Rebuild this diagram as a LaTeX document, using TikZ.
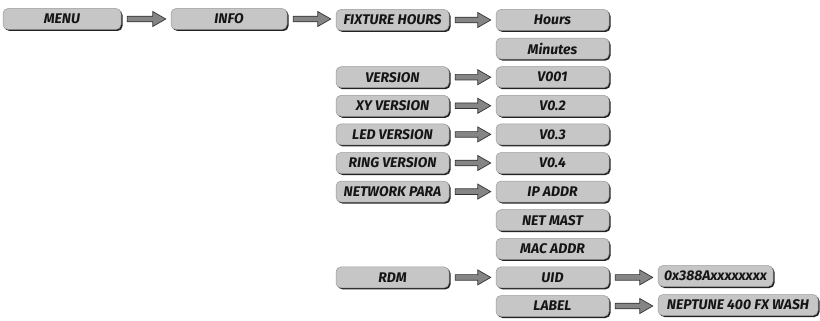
\documentclass[tikz,border=0pt]{standalone}
\usepackage{fontspec}
\setmainfont{Fira Sans}
\usetikzlibrary{calc,shadows}
\definecolor{boxfill}{HTML}{C6C6C6}
\definecolor{boxedge}{HTML}{9A9A9A}
\definecolor{shadowc}{HTML}{222222}
\definecolor{arrfill}{HTML}{858585}
\definecolor{arredge}{HTML}{333333}
\definecolor{textc}{HTML}{151515}
\tikzset{
  mbox/.style={draw=boxedge, line width=0.5pt, fill=boxfill, rounded corners=5pt,
    minimum height=21pt, inner sep=0pt, text=textc,
    font=\fontsize{14}{14}\selectfont\bfseries\itshape,
    drop shadow={shadow xshift=1.5pt, shadow yshift=-1.5pt, fill=shadowc, opacity=1}},
  wA/.style={minimum width=118pt},
  wB/.style={minimum width=116pt},
  wC/.style={minimum width=113pt},
  wD/.style={minimum width=115pt},
  wE/.style={minimum width=160pt},
  flowarr/.style={draw=arredge, line width=0.7pt, fill=arrfill, line join=miter},
}
\newcommand\flowarrow[2]{%
  \draw[flowarr] let \p1=(#1.east), \p2=(#2.west) in
    (\x1+6pt,\y1+2.8pt) -- (\x2-18pt,\y1+2.8pt) -- (\x2-18pt,\y1+7.5pt) --
    (\x2-5pt,\y1) -- (\x2-18pt,\y1-7.5pt) -- (\x2-18pt,\y1-2.8pt) --
    (\x1+6pt,\y1-2.8pt) -- cycle;}
\begin{document}
\begin{tikzpicture}[x=1pt,y=-1pt]
\useasboundingbox (0,0) rectangle (820,321);
\def\cA{62}\def\cB{229}\def\cC{392.5}\def\cD{552.5}
\node[mbox,wA] (menu) at (\cA,19) {MENU};
\node[mbox,wB] (info) at (\cB,19) {INFO};
\node[mbox,wC] (fix) at (\cC,20) {FIXTURE HOURS};
\node[mbox,wC] (hours) at (\cD,20) {Hours};
\node[mbox,wC] (minutes) at (\cD,48.6) {Minutes};
\node[mbox,wC] (ver) at (\cC,77.2) {VERSION};
\node[mbox,wC] (v001) at (\cD,77.2) {V001};
\node[mbox,wC] (xyver) at (\cC,105.8) {XY VERSION};
\node[mbox,wC] (v02) at (\cD,105.8) {V0.2};
\node[mbox,wC] (ledver) at (\cC,134.4) {LED VERSION};
\node[mbox,wC] (v03) at (\cD,134.4) {V0.3};
\node[mbox,wC] (ringver) at (\cC,163) {RING VERSION};
\node[mbox,wC] (v04) at (\cD,163) {V0.4};
\node[mbox,wC] (netpara) at (\cC,191.6) {NETWORK PARA};
\node[mbox,wC] (ipaddr) at (\cD,191.6) {IP ADDR};
\node[mbox,wC] (netmast) at (\cD,220.2) {NET MAST};
\node[mbox,wC] (macaddr) at (\cD,248.8) {MAC ADDR};
\node[mbox,wC] (rdm) at (\cC,277.4) {RDM};
\node[mbox,wC] (uid) at (\cD,277.4) {UID};
\node[mbox,wD] (uidval) at (715.5,276) {0x388Axxxxxxxx};
\node[mbox,wC] (label) at (\cD,306) {LABEL};
\node[mbox,wE] (labelval) at (738,305) {NEPTUNE 400 FX WASH};
\flowarrow{menu}{info}
\flowarrow{info}{fix}
\flowarrow{fix}{hours}
\flowarrow{ver}{v001}
\flowarrow{xyver}{v02}
\flowarrow{ledver}{v03}
\flowarrow{ringver}{v04}
\flowarrow{netpara}{ipaddr}
\flowarrow{rdm}{uid}
\flowarrow{uid}{uidval}
\flowarrow{label}{labelval}
\end{tikzpicture}
\end{document}
